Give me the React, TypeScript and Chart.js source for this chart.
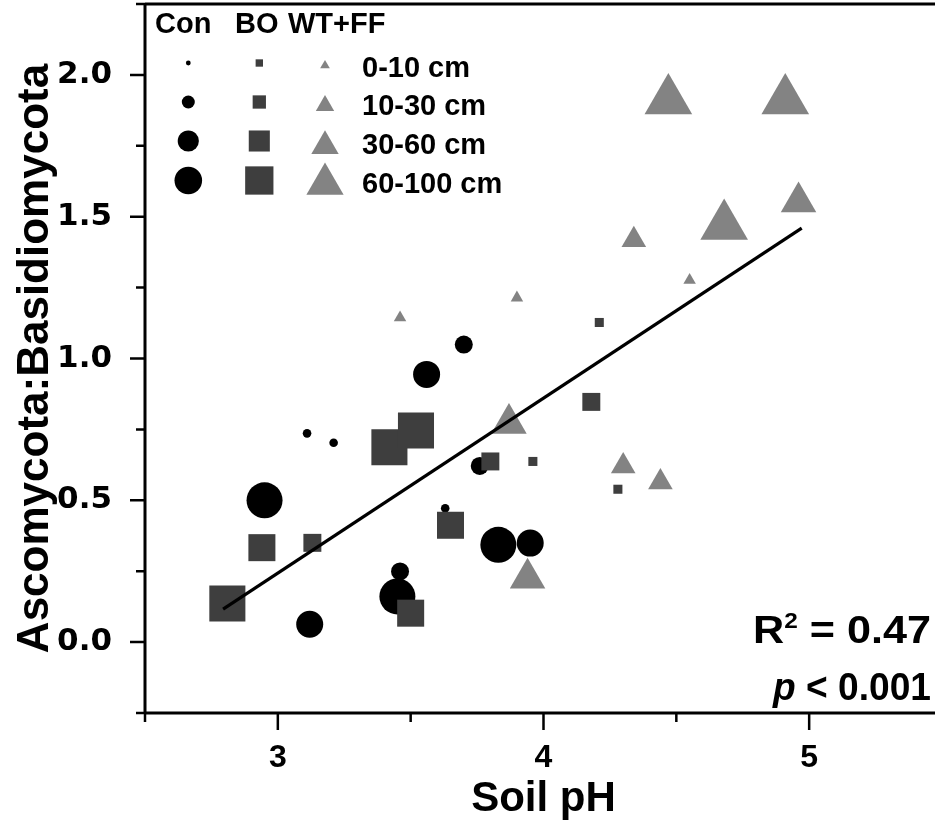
import React, { useEffect, useRef } from 'react';
import { Chart, registerables } from 'chart.js';
import { drawPoint } from 'chart.js/helpers';

Chart.register(...registerables);

// ---------- data ----------
const groupLabels = ['Con', 'BO', 'WT+FF'];
const depthLabels = ['0-10 cm', '10-30 cm', '30-60 cm', '60-100 cm'];

// depth class index of each point (3 replicates per depth)
const pointDepth = [0, 0, 0, 1, 1, 1, 2, 2, 2, 3, 3, 3];

// Con (circles)
const conPH = [3.11, 3.21, 3.63, 3.70, 3.76, 3.46, 3.56, 3.12, 3.95, 2.95, 3.45, 3.83];
const conRatio = [0.736, 0.703, 0.472, 1.049, 0.621, 0.249, 0.944, 0.063, 0.349, 0.50, 0.161, 0.343];

// BO (squares)
const boPH = [3.96, 4.21, 4.28, 3.80, 3.13, 4.18, 2.94, 3.65, 3.50, 3.42, 3.52, 2.81];
const boRatio = [0.637, 1.127, 0.539, 0.637, 0.350, 0.847, 0.333, 0.412, 0.102, 0.687, 0.746, 0.136];

// WT+FF (triangles)
const wtPH = [3.46, 3.90, 4.55, 4.34, 4.30, 4.44, 3.87, 4.96, 3.94, 4.68, 4.47, 4.91];
const wtRatio = [1.144, 1.214, 1.276, 1.418, 0.620, 0.564, 0.771, 1.552, 0.225, 1.467, 1.91, 1.91];

// regression line end points
const fitPH = [2.794, 4.972];
const fitRatio = [0.116, 1.460];

const xTickValues = [2.5, 3, 3.5, 4, 4.5, 5, 5.5];
const yTickValues = [-0.25, 0, 0.25, 0.5, 0.75, 1, 1.25, 1.5, 1.75, 2, 2.25];

const xTitle = 'Soil pH';
const yTitle = 'Ascomycota:Basidiomycota';
const statR2 = '0.47';
const statP = '0.001';

// ---------- styles ----------
const CIRCLE_COLOR = '#000000';
const SQUARE_COLOR = '#3e3e3e';
const TRIANGLE_COLOR = '#838383';
const CIRCLE_R = [4.3, 9, 13.5, 18];
const SQUARE_R = [6.4, 12.7, 19.1, 25.5]; // chart.js rect radius (side = r*sqrt2)
const TRIANGLE_R = [7.2, 14.2, 20.5, 27.5];

const SANS = "'Liberation Sans', Arial, sans-serif";
const DEJAVU = "'DejaVu Sans', sans-serif";

const toPoints = (xs: number[], ys: number[]) => xs.map((x, i) => ({ x, y: ys[i] }));

const framePlugin = {
  id: 'frameTicks',
  afterDraw(chart: any) {
    const { ctx, chartArea, scales } = chart;
    const xs = scales.x;
    const ys = scales.y;
    ctx.save();
    ctx.strokeStyle = '#000';
    ctx.lineCap = 'butt';
    ctx.lineWidth = 3;
    ctx.beginPath();
    ctx.moveTo(chartArea.left, chartArea.top);
    ctx.lineTo(chartArea.right, chartArea.top);
    ctx.moveTo(chartArea.left, chartArea.top);
    ctx.lineTo(chartArea.left, chartArea.bottom);
    ctx.moveTo(chartArea.left, chartArea.bottom);
    ctx.lineTo(chartArea.right, chartArea.bottom);
    ctx.stroke();
    ctx.lineWidth = 2.5;
    ctx.beginPath();
    xTickValues.forEach((v) => {
      const px = xs.getPixelForValue(v);
      const major = Math.abs(v - Math.round(v)) < 1e-6;
      ctx.moveTo(px, chartArea.bottom);
      ctx.lineTo(px, chartArea.bottom + (major ? 17 : 9));
    });
    yTickValues.forEach((v) => {
      const py = ys.getPixelForValue(v);
      const major = Math.abs(v * 2 - Math.round(v * 2)) < 1e-6;
      ctx.moveTo(chartArea.left, py);
      ctx.lineTo(chartArea.left - (major ? 15 : 9), py);
    });
    ctx.stroke();
    ctx.restore();
  },
};

const legendPlugin = {
  id: 'customLegend',
  afterDraw(chart: any) {
    const { ctx } = chart;
    ctx.save();
    ctx.fillStyle = '#000';
    ctx.textBaseline = 'alphabetic';
    ctx.textAlign = 'left';
    ctx.font = `bold 29px ${SANS}`;
    ctx.fillText(groupLabels[0], 155, 33);
    ctx.fillText(groupLabels[1], 235, 33);
    ctx.fillText(groupLabels[2], 288, 33);

    const rowY = [63, 102, 141, 180.5];
    const triY = [65.5, 105.7, 146, 184];
    const textBase = [77, 115, 154, 193];
    const legCircle = [2.4, 6.5, 10.6, 13.8];
    const legSquare = [5.2, 9.4, 14.9, 20];
    const legTri = [5.6, 10.6, 15.8, 21.5];
    depthLabels.forEach((lab, i) => {
      ctx.fillStyle = CIRCLE_COLOR;
      drawPoint(ctx, { pointStyle: 'circle', radius: legCircle[i], rotation: 0, borderWidth: 0 } as any, 188.3, rowY[i]);
      ctx.fillStyle = SQUARE_COLOR;
      drawPoint(ctx, { pointStyle: 'rect', radius: legSquare[i], rotation: 0, borderWidth: 0 } as any, 259.3, rowY[i]);
      ctx.fillStyle = TRIANGLE_COLOR;
      drawPoint(ctx, { pointStyle: 'triangle', radius: legTri[i], rotation: 0, borderWidth: 0 } as any, 325, triY[i]);
      ctx.fillStyle = '#000';
      ctx.font = `bold 29px ${SANS}`;
      ctx.fillText(lab, 362, textBase[i]);
    });
    ctx.restore();
  },
};

const statsPlugin = {
  id: 'stats',
  afterDraw(chart: any) {
    const { ctx } = chart;
    ctx.save();
    ctx.fillStyle = '#000';
    ctx.textBaseline = 'alphabetic';
    ctx.textAlign = 'left';
    const F = `bold 39px ${SANS}`;
    const FS = `bold 22px ${SANS}`;
    const FI = `italic bold 39px ${SANS}`;
    const drawLine = (
      parts: { t: string; f: string; dy: number }[],
      right: number,
      targetWidth: number,
      base: number
    ) => {
      let total = 0;
      parts.forEach((p) => {
        ctx.font = p.f;
        total += ctx.measureText(p.t).width;
      });
      ctx.save();
      ctx.translate(right - targetWidth, base);
      ctx.scale(targetWidth / total, 1);
      let x = 0;
      parts.forEach((p) => {
        ctx.font = p.f;
        ctx.fillText(p.t, x, p.dy);
        x += ctx.measureText(p.t).width;
      });
      ctx.restore();
    };
    drawLine(
      [
        { t: 'R', f: F, dy: 0 },
        { t: '2', f: FS, dy: -15 },
        { t: ' = ' + statR2, f: F, dy: 0 },
      ],
      931,
      178,
      643
    );
    drawLine(
      [
        { t: 'p', f: FI, dy: 0 },
        { t: ' < ' + statP, f: F, dy: 0 },
      ],
      931,
      158,
      700
    );
    ctx.restore();
  },
};

export default function App() {
  const ref = useRef<HTMLCanvasElement>(null);
  useEffect(() => {
    const canvas = ref.current;
    if (!canvas) return;
    const chart = new Chart(canvas, {
      type: 'scatter',
      data: {
        datasets: [
          {
            label: 'fit',
            type: 'line',
            data: toPoints(fitPH, fitRatio),
            borderColor: '#000',
            borderWidth: 3.2,
            pointRadius: 0,
            showLine: true,
            fill: false,
          } as any,
          {
            label: groupLabels[2],
            data: toPoints(wtPH, wtRatio),
            pointStyle: 'triangle',
            pointRadius: pointDepth.map((d) => TRIANGLE_R[d]),
            pointBackgroundColor: TRIANGLE_COLOR,
            pointBorderWidth: 0,
            borderWidth: 0,
          },
          {
            label: groupLabels[1],
            data: toPoints(boPH, boRatio),
            pointStyle: 'rect',
            pointRadius: pointDepth.map((d) => SQUARE_R[d]),
            pointBackgroundColor: SQUARE_COLOR,
            pointBorderWidth: 0,
            borderWidth: 0,
          },
          {
            label: groupLabels[0],
            data: toPoints(conPH, conRatio),
            pointStyle: 'circle',
            pointRadius: pointDepth.map((d) => CIRCLE_R[d]),
            pointBackgroundColor: CIRCLE_COLOR,
            pointBorderWidth: 0,
            borderWidth: 0,
          },
        ],
      },
      options: {
        responsive: false,
        animation: false,
        devicePixelRatio: 1,
        layout: { autoPadding: false, padding: { left: 0, top: 4, right: 18, bottom: 0 } },
        plugins: {
          legend: { display: false },
          tooltip: { enabled: false },
        },
        scales: {
          x: {
            type: 'linear',
            min: 2.5,
            max: 5.5,
            afterBuildTicks: (s: any) => {
              s.ticks = xTickValues.map((v) => ({ value: v }));
            },
            afterFit: (s: any) => {
              s.height = 116;
              s.paddingLeft = 0;
              s.paddingRight = 0;
            },
            grid: { display: false, drawTicks: false },
            border: { display: false },
            ticks: {
              autoSkip: false,
              maxRotation: 0,
              padding: 26,
              color: '#000',
              font: { family: SANS, size: 32, weight: 'bold' },
              callback: (v: any) => (Math.abs(v - Math.round(v)) < 1e-6 ? String(Math.round(v)) : null),
            },
            title: {
              display: true,
              text: xTitle,
              color: '#000',
              font: { family: SANS, size: 42, weight: 'bold' },
              padding: { top: 0, bottom: 4 },
            },
          },
          y: {
            type: 'linear',
            min: -0.25,
            max: 2.25,
            afterBuildTicks: (s: any) => {
              s.ticks = yTickValues.map((v) => ({ value: v }));
            },
            afterFit: (s: any) => {
              s.width = 145;
              s.paddingTop = 0;
              s.paddingBottom = 0;
            },
            grid: { display: false, drawTicks: false },
            border: { display: false },
            ticks: {
              autoSkip: false,
              padding: 33,
              color: '#000',
              font: { family: DEJAVU, size: 31, weight: 'bold' },
              callback: (v: any) => (Math.abs(v * 2 - Math.round(v * 2)) < 1e-6 ? Number(v).toFixed(1) : null),
            },
            title: {
              display: true,
              text: yTitle,
              color: '#000',
              font: { family: SANS, size: 44, weight: 'bold' },
              padding: { top: 9, bottom: 0 },
            },
          },
        },
      },
      plugins: [framePlugin, legendPlugin, statsPlugin],
    } as any);
    return () => chart.destroy();
  }, []);

  return (
    <div
      style={{
        position: 'absolute',
        left: 0,
        top: 0,
        width: 935,
        height: 829,
        overflow: 'hidden',
        background: '#ffffff',
      }}
    >
      <canvas ref={ref} width={960} height={829} style={{ display: 'block', width: 960, height: 829 }} />
    </div>
  );
}
